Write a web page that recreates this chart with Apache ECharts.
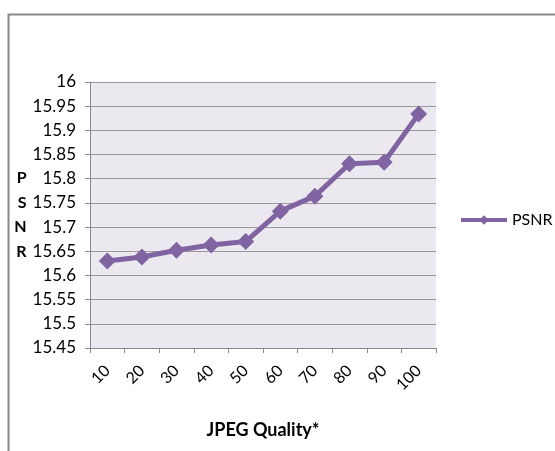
<!DOCTYPE html>
<html>
<head>
<meta charset="utf-8">
<script src="https://cdn.jsdelivr.net/npm/echarts@6/dist/echarts.min.js"></script>
<style>html,body{margin:0;padding:0;background:#fff;}#c{width:555px;height:451px;}</style>
</head>
<body>
<div id="c"></div>
<script>
var categories = ['10','20','30','40','50','60','70','80','90','100'];
var psnrValues = [15.63, 15.638, 15.652, 15.663, 15.67, 15.733, 15.764, 15.831, 15.834, 15.934];
var seriesName = 'PSNR';
var xTitle = 'JPEG Quality*';
var yTitle = 'P\nS\nN\nR';

var chart = echarts.init(document.getElementById('c'), null, {renderer: 'canvas'});
var FONT = 'Lato';
chart.setOption({
  animation: false,
  backgroundColor: '#fff',
  graphic: [{
    type: 'rect', left: 6, top: 12,
    shape: {width: 560, height: 450},
    style: {fill: 'none', stroke: '#888', lineWidth: 2},
    silent: true
  }],
  grid: {left: 90, top: 82, right: 119, bottom: 103, backgroundColor: '#ebe9ef', show: true, borderWidth: 0},
  legend: {
    data: [{name: seriesName, lineStyle: {width: 4}}], left: 454, top: 207, itemWidth: 46, itemHeight: 12, itemGap: 4,
    textStyle: {fontFamily: FONT, fontSize: 16, color: '#000'}
  },
  xAxis: {
    type: 'category', data: categories, boundaryGap: true,
    axisLine: {lineStyle: {color: '#888', width: 1}},
    axisTick: {show: true, length: 5, lineStyle: {color: '#888'}},
    axisLabel: {rotate: 45, margin: 20, fontFamily: FONT, fontSize: 16, color: '#000'},
    name: xTitle, nameLocation: 'middle', nameGap: 73,
    nameTextStyle: {fontFamily: FONT, fontSize: 18, fontWeight: 'bold', color: '#000'}
  },
  yAxis: {
    type: 'value', min: 15.45, max: 16, interval: 0.05,
    axisLine: {show: true, lineStyle: {color: '#888', width: 1}},
    axisTick: {show: true, length: 5, lineStyle: {color: '#888'}},
    splitLine: {show: true, lineStyle: {color: '#999', width: 1}},
    axisLabel: {margin: 14, fontFamily: FONT, fontSize: 17, color: '#000',
      formatter: function (v) { return String(+v.toFixed(2)); }},
    name: yTitle, nameLocation: 'middle', nameGap: 62, nameRotate: 0,
    nameTextStyle: {fontFamily: FONT, fontSize: 16, fontWeight: 'bold', color: '#000', lineHeight: 24.5}
  },
  series: [{
    name: seriesName, type: 'line', data: psnrValues,
    symbol: 'diamond', symbolSize: 17,
    lineStyle: {color: '#8064a2', width: 5},
    itemStyle: {color: '#8064a2'}
  }]
});
</script>
</body>
</html>
